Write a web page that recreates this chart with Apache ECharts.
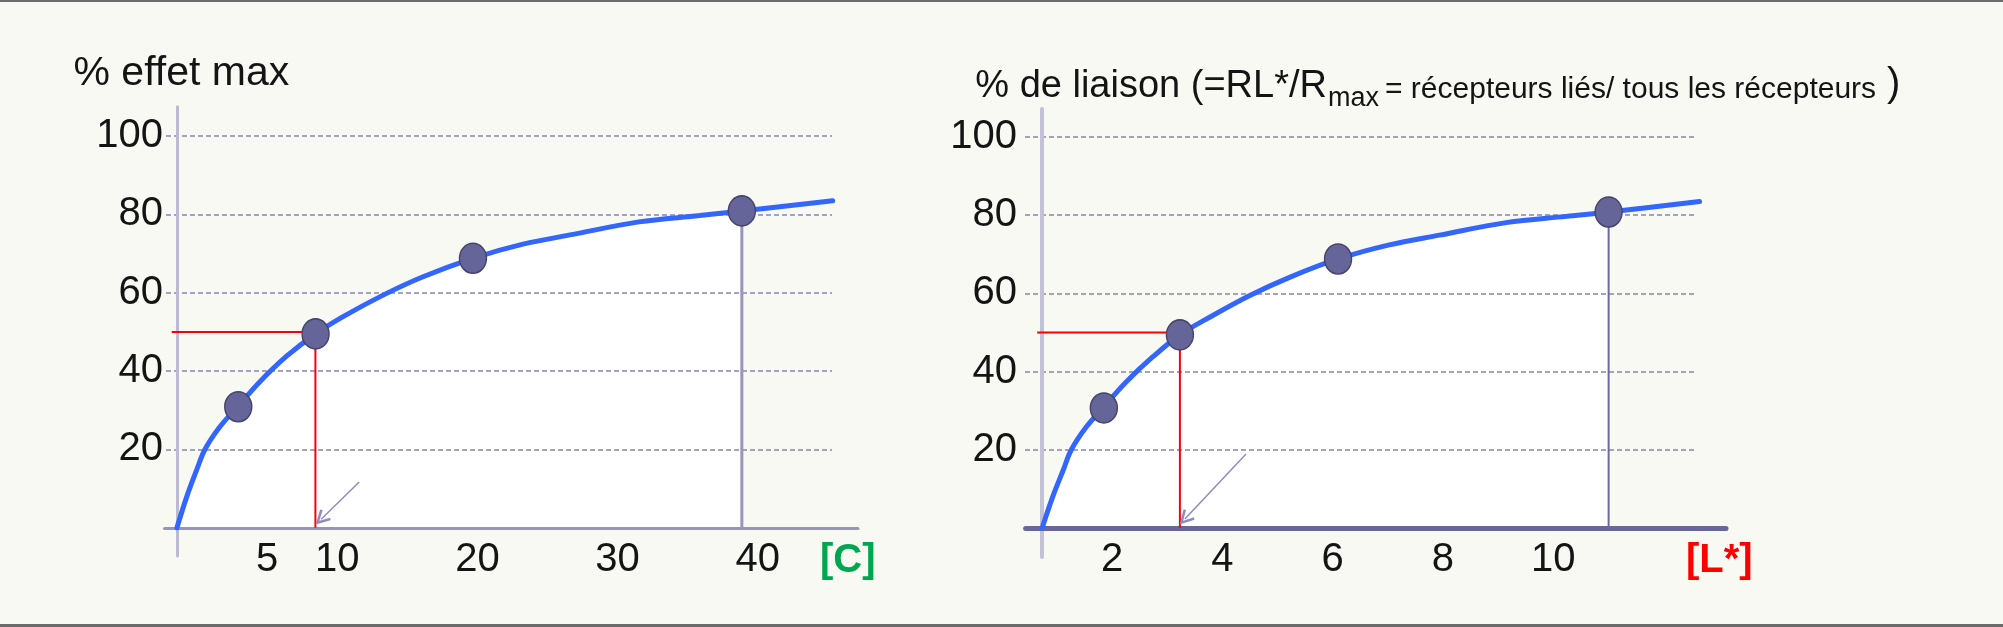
<!DOCTYPE html>
<html>
<head>
<meta charset="utf-8">
<script src="https://cdn.jsdelivr.net/npm/echarts@6.0.0/dist/echarts.min.js"></script>
<style>
  html, body { margin: 0; padding: 0; background: #f9f9f4; }
  #main { width: 2003px; height: 627px; }
</style>
</head>
<body>
<div id="main"></div>
<script>
// ---- graphique de gauche : % effet max en fonction de [C] ----
const concCourbe = [0, 0.69, 1.39, 1.98, 3.04, 4.34, 5.87, 7.76, 9.81, 11.76, 14.59, 17.42, 20.95, 24.49, 28.03, 32.69, 36.99, 39.98, 46.41]
const effetCourbe = [0, 7.9, 14.7, 20, 25.8, 31.1, 37.3, 43.8, 49.5, 53.9, 59.4, 64.1, 68.8, 72.4, 74.9, 78.1, 79.7, 80.9, 83.5]
const concPoints = [4.34, 9.81, 20.95, 39.98]
const effetPoints = [30.9, 49.5, 68.8, 80.9]
const ce50 = 9.8
const demiEffet = 50
const ticksC = [5, 10, 20, 30, 40]
const flecheCE50 = [[12.9, 11.7], [10.2, 2.2]]

// ---- graphique de droite : % de liaison en fonction de [L*] ----
const ligandCourbe = [0, 0.19, 0.38, 0.53, 0.8, 1.12, 1.52, 2.01, 2.5, 3.04, 3.76, 4.49, 5.37, 6.3, 7.21, 8.42, 9.51, 10.28, 11.93]
const liaisonCourbe = [0, 7.9, 14.7, 20, 25.8, 31, 37.3, 43.8, 49.4, 53.9, 59.4, 64.1, 68.8, 72.4, 74.9, 78.1, 79.7, 80.8, 83.5]
const ligandPoints = [1.12, 2.5, 5.37, 10.28]
const liaisonPoints = [30.7, 49.4, 68.8, 80.8]
const kd = 2.5
const demiLiaison = 50
const ticksL = [2, 4, 6, 8, 10]
const flecheKd = [[3.7, 18.9], [2.59, 2.3]]

const ticksY = { min: 0, max: 100, interval: 20 }

const police = '"Liberation Sans", Arial, sans-serif'
const ellipse = 'path://M50 0 A50 50 0 1 1 50 100 A50 50 0 1 1 50 0 Z'
const chevron = 'path://M5 0 L10 9 L8.6 10 L5 3.4 L1.4 10 L0 9 Z'
const lissage = 0.35

const zip = (xs, ys) => xs.map((x, i) => [x, ys[i]])

// series d'un graphique (grille de donnees = ax)
const seriesGraphe = (ax, c) => {
  const courbe = zip(c.x, c.y)
  const points = zip(c.px, c.py)
  const fin = points[points.length - 1]
  const aire = courbe.filter(p => p[0] <= fin[0])
  return [
    {
      type: 'line', xAxisIndex: ax, yAxisIndex: ax, data: aire, z: 1, silent: true,
      smooth: lissage, showSymbol: false,
      lineStyle: { width: 0 }, areaStyle: { color: '#ffffff', opacity: 1 }
    },
    {
      type: 'line', xAxisIndex: ax, yAxisIndex: ax, z: 4, silent: true,
      data: [fin, [fin[0], 0]], showSymbol: false,
      lineStyle: { color: c.couleurChute, width: c.largeurChute }
    },
    {
      type: 'line', xAxisIndex: ax, yAxisIndex: ax, z: 4, silent: true,
      data: [[c.debutRouge, c.demi], [c.mi, c.demi], [c.mi, 0]], showSymbol: false,
      lineStyle: { color: '#ff0000', width: 2 },
      markLine: {
        silent: true, z: 5, symbol: ['none', chevron], symbolSize: [15, 15],
        label: { show: false },
        lineStyle: { color: '#8e8cbf', width: 1.5, type: 'solid' },
        data: [[{ coord: c.fleche[0] }, { coord: c.fleche[1] }]]
      }
    },
    {
      type: 'line', xAxisIndex: ax, yAxisIndex: ax, data: courbe, z: 5, silent: true,
      smooth: lissage, showSymbol: false,
      lineStyle: { color: '#3366ff', width: 5, cap: 'round' }
    },
    {
      type: 'scatter', xAxisIndex: ax, yAxisIndex: ax, data: points, z: 6, silent: true,
      symbol: ellipse, symbolSize: [27, 30],
      itemStyle: { color: '#66659a', borderColor: '#45446c', borderWidth: 1.5, opacity: 1 }
    }
  ]
}

// axes de donnees (traits d'axes seulement)
const axeDonnees = (g, min, max, couleur, largeur) => ({
  gridIndex: g, type: 'value', min, max, z: 3,
  axisLine: { onZero: true, lineStyle: { color: couleur, width: largeur } },
  axisTick: { show: false }, axisLabel: { show: false }, splitLine: { show: false }
})
// axes de reperes (graduations + lignes pointillees)
const axeXReperes = (g, min, max, ticks, nom, couleurNom, nameGap) => ({
  gridIndex: g, type: 'value', min, max,
  axisLine: { show: false }, axisTick: { show: false }, splitLine: { show: false },
  axisLabel: { customValues: ticks, margin: 12, fontSize: 40, fontFamily: police, color: '#141414' },
  name: nom, nameLocation: 'end', nameGap,
  nameTextStyle: {
    fontSize: 40, fontWeight: 'bold', fontFamily: police, color: couleurNom,
    align: 'left', verticalAlign: 'top', padding: [13, 0, 0, 0]
  }
})
const axeYReperes = (g, marge) => ({
  gridIndex: g, type: 'value', min: ticksY.min, max: ticksY.max, interval: ticksY.interval, z: 2,
  axisLine: { show: false }, axisTick: { show: false },
  axisLabel: { margin: marge, fontSize: 40, fontFamily: police, color: '#141414', showMinLabel: false },
  splitLine: { show: true, showMinLine: false, lineStyle: { color: '#a4a2c3', width: 2, type: [5, 3] } }
})

const chart = echarts.init(document.getElementById('main'))

chart.setOption({
  backgroundColor: '#f9f9f4',
  animation: false,
  grid: [
    { left: 164.5, top: 106.7, width: 693.5, height: 449.3 },
    { left: 166, top: 136, width: 666, height: 391.7 },
    { left: 1025.6, top: 109, width: 700.4, height: 448 },
    { left: 1025, top: 137, width: 672, height: 391 }
  ],
  xAxis: [
    axeDonnees(0, -0.88, 48.2, '#9896b8', 3),
    axeXReperes(1, -2.21, 45.29, ticksC, '[C]', '#00a650', -12),
    axeDonnees(2, -0.3, 12.41, '#68669a', 5),
    axeXReperes(3, 0.417, 12.61, ticksL, '[L*]', '#ff0000', -11)
  ],
  yAxis: [
    axeDonnees(0, -7.2, 107.5, '#bdbbd4', 3),
    axeYReperes(1, 3),
    axeDonnees(2, -7.42, 107.16, '#c3c1d9', 4),
    axeYReperes(3, 8)
  ],
  series: [
    ...seriesGraphe(0, {
      x: concCourbe, y: effetCourbe, px: concPoints, py: effetPoints,
      mi: ce50, demi: demiEffet, debutRouge: -0.37, fleche: flecheCE50,
      couleurChute: '#9896b8', largeurChute: 3
    }),
    ...seriesGraphe(2, {
      x: ligandCourbe, y: liaisonCourbe, px: ligandPoints, py: liaisonPoints,
      mi: kd, demi: demiLiaison, debutRouge: -0.09, fleche: flecheKd,
      couleurChute: '#6c6a9c', largeurChute: 2
    })
  ],
  graphic: [
    { type: 'rect', shape: { x: 0, y: 0, width: 2003, height: 2 }, style: { fill: '#6b6b6b' } },
    { type: 'rect', shape: { x: 0, y: 624, width: 2003, height: 3 }, style: { fill: '#6b6b6b' } },
    // titres
    { type: 'text', x: 73.5, y: 73.8, style: { text: '% effet max', font: '41px ' + police, fill: '#141414', verticalAlign: 'middle' } },
    { type: 'text', x: 975.3, y: 86.8, style: { text: '% de liaison (=RL*/R', font: '38px ' + police, fill: '#141414', verticalAlign: 'middle' } },
    { type: 'text', x: 1328, y: 98.9, style: { text: 'max', font: '27px ' + police, fill: '#141414', verticalAlign: 'middle' } },
    { type: 'text', x: 1385, y: 89.6, style: { text: '= récepteurs liés/ tous les récepteurs', font: '30px ' + police, fill: '#141414', verticalAlign: 'middle' } },
    { type: 'text', x: 1887, y: 85.1, style: { text: ')', font: '40px ' + police, fill: '#141414', verticalAlign: 'middle' } },
    // annotations
    { type: 'rect', shape: { x: 350, y: 441, width: 120, height: 18 }, style: { fill: '#ffffff' } },
    { type: 'text', x: 367, y: 442, style: { text: 'CE', font: 'italic 38px "Open Sans", sans-serif', fill: '#141414', verticalAlign: 'middle' } },
    { type: 'text', x: 416, y: 452.7, style: { text: '50', font: 'italic 29px "Open Sans", sans-serif', fill: '#141414', verticalAlign: 'middle' } },
    { type: 'text', x: 1269.4, y: 439.4, style: { text: 'K', font: '42px ' + police, fill: '#141414', verticalAlign: 'middle' } },
    { type: 'text', x: 1297.7, y: 453.9, style: { text: 'd', font: '32px ' + police, fill: '#141414', verticalAlign: 'middle' } }
  ]
})
</script>
</body>
</html>
